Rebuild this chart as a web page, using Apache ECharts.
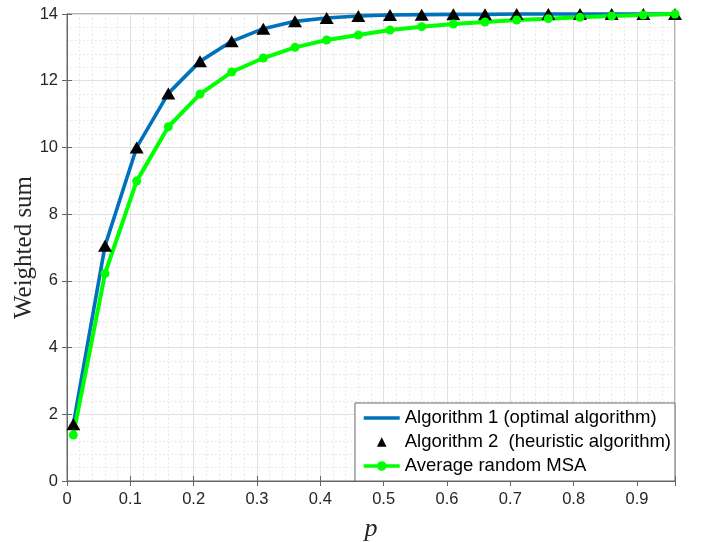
<!DOCTYPE html>
<html>
<head>
<meta charset="utf-8">
<script src="https://cdn.jsdelivr.net/npm/echarts@6/dist/echarts.min.js"></script>
<style>html,body{margin:0;padding:0;background:#fff;}#c{width:710px;height:542px;}</style>
</head>
<body>
<div id="c"></div>
<script>
var pValues = [0.01,0.06,0.11,0.16,0.21,0.26,0.31,0.36,0.41,0.46,0.51,0.56,0.61,0.66,0.71,0.76,0.81,0.86,0.91,0.96];
var alg1 = [1.7,7.05,10.0,11.62,12.58,13.18,13.56,13.78,13.88,13.94,13.97,13.98,13.99,13.99,14.0,14.0,14.0,14.0,14.0,14.0];
var alg2 = [1.7,7.05,10.0,11.62,12.58,13.18,13.56,13.78,13.88,13.94,13.97,13.98,13.99,13.99,14.0,14.0,14.0,14.0,14.0,14.0];
var randomMSA = [1.38,6.22,8.99,10.62,11.6,12.26,12.68,13.0,13.22,13.37,13.52,13.62,13.7,13.76,13.82,13.86,13.9,13.94,13.97,14.0];
var seriesNames = ['Algorithm 1 (optimal algorithm)','Algorithm 2  (heuristic algorithm)','Average random MSA'];

function pairs(ys){ return pValues.map(function(x,i){ return [x, ys[i]]; }); }

var axisCol = '#262626';
var lineCol = '#666';
var chart = echarts.init(document.getElementById('c'));
chart.setOption({
  animation: false,
  backgroundColor: '#fff',
  grid: { left: 67, right: 35, top: 14, bottom: 61, show: true, borderColor: lineCol, borderWidth: 1,
          containLabel: false, outerBoundsMode: 'none' },
  legend: {
    orient: 'vertical', right: 35, bottom: 61,
    backgroundColor: '#fff', borderColor: lineCol, borderWidth: 1,
    padding: [5, 4, 5, 7], itemGap: 4, itemWidth: 36, itemHeight: 12,
    textStyle: { fontFamily: 'Liberation Sans', fontSize: 18.5, color: '#000', lineHeight: 20 },
    data: [
      { name: seriesNames[0], itemStyle: { color: 'rgba(0,0,0,0)', borderWidth: 0 }, lineStyle: { width: 3.5 } },
      { name: seriesNames[1], lineStyle: { opacity: 0 } },
      { name: seriesNames[2], lineStyle: { width: 3.5 } }
    ]
  },
  xAxis: [{
    type: 'value', min: 0, max: 0.96, interval: 0.1,
    name: 'p', nameLocation: 'middle', nameGap: 35, nameMoveOverlap: false,
    nameTextStyle: { fontFamily: 'Liberation Serif', fontStyle: 'italic', fontSize: 26, color: axisCol },
    axisLine: { show: true, onZero: false, lineStyle: { color: lineCol } },
    axisTick: { show: true, inside: true, length: 5, lineStyle: { color: lineCol } },
    axisLabel: { color: axisCol, fontFamily: 'Liberation Sans', fontSize: 16.5, margin: 10,
      formatter: function(v){ var r = Math.round(v*10)/10; if (Math.abs(v-r) > 1e-6) return ''; return r === 0 ? '0' : String(r); } },
    splitLine: { show: true, lineStyle: { color: '#e0e0e0', width: 1 } },
    minorTick: { show: false, splitNumber: 5 },
    minorSplitLine: { show: true, lineStyle: { color: '#e2e2e2', type: [1.5, 2.5], width: 1 } }
  }, {
    type: 'value', min: 0, max: 0.96, interval: 0.1, position: 'top',
    axisLine: { show: true, lineStyle: { color: lineCol } },
    axisTick: { show: true, inside: true, length: 5, lineStyle: { color: lineCol } },
    axisLabel: { show: false }, splitLine: { show: false }
  }],
  yAxis: [{
    type: 'value', min: 0, max: 14, interval: 2,
    name: 'Weighted sum', nameLocation: 'middle', nameGap: 30, nameMoveOverlap: false,
    nameTextStyle: { fontFamily: 'Liberation Serif', fontSize: 25, color: axisCol },
    axisLine: { show: true, lineStyle: { color: lineCol } },
    axisTick: { show: true, inside: true, length: 5, lineStyle: { color: lineCol } },
    axisLabel: { color: axisCol, fontFamily: 'Liberation Sans', fontSize: 16.5, margin: 9 },
    splitLine: { show: true, lineStyle: { color: '#e0e0e0', width: 1 } },
    minorTick: { show: false, splitNumber: 5 },
    minorSplitLine: { show: true, lineStyle: { color: '#e2e2e2', type: [1.5, 2.5], width: 1 } }
  }, {
    type: 'value', min: 0, max: 14, interval: 2, position: 'right',
    axisLine: { show: true, lineStyle: { color: lineCol } },
    axisTick: { show: true, inside: true, length: 5, lineStyle: { color: lineCol } },
    axisLabel: { show: false }, splitLine: { show: false }
  }],
  series: [{
    name: seriesNames[0], type: 'line', data: pairs(alg1), showSymbol: false, symbol: 'none',
    clip: false, lineStyle: { color: '#0072BD', width: 3.6 }, itemStyle: { color: '#0072BD' }
  }, {
    name: seriesNames[1], type: 'line', data: pairs(alg2), symbol: 'triangle', symbolSize: [14, 12],
    showAllSymbol: true, clip: false,
    lineStyle: { width: 0, opacity: 0 }, itemStyle: { color: '#000', opacity: 1 }
  }, {
    name: seriesNames[2], type: 'line', data: pairs(randomMSA), symbol: 'circle', symbolSize: 9,
    showAllSymbol: true, clip: false,
    lineStyle: { color: '#00FF00', width: 4 }, itemStyle: { color: '#00FF00', borderWidth: 0 }
  }]
});
</script>
</body>
</html>
